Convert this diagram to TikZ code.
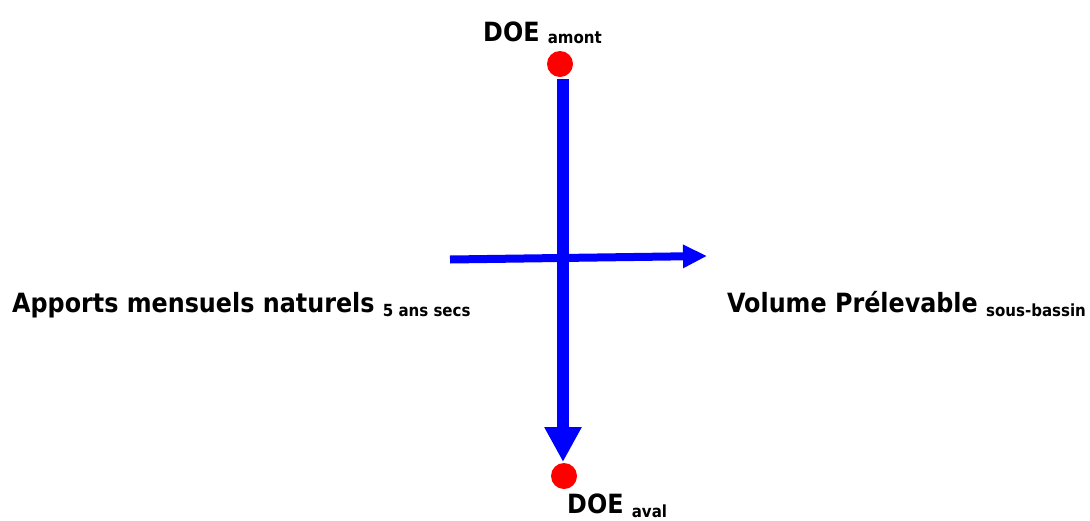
\documentclass[tikz,border=0pt]{standalone}
\usepackage{fontspec}
\setmainfont{DejaVu Sans Condensed}
\usetikzlibrary{arrows.meta}
\definecolor{flowblue}{RGB}{0,0,255}
\definecolor{doered}{RGB}{255,0,0}
\tikzset{
  doedot/.style={circle,fill=doered,draw=none,minimum size=26pt,inner sep=0pt},
  mainarrow/.style={draw=flowblue,line width=12pt,-{Triangle[length=35pt,width=35pt]}},
  sidearrow/.style={draw=flowblue,line width=8pt,-{Triangle[length=24pt,width=22pt]}},
  lbl/.style={anchor=base west,inner sep=0pt,font=\bfseries\fontsize{26.5}{30}\selectfont},
}
\newcommand{\subtxt}[2]{\raisebox{-#1pt}{\fontsize{16.7}{20}\selectfont #2}}
\begin{document}
\begin{tikzpicture}[x=1pt,y=-1pt]
\useasboundingbox (0,0) rectangle (1090,520);
\node[doedot] (top) at (560,64) {};
\node[doedot] (bot) at (564,476) {};
\coordinate (vs) at (563,79);
\coordinate (ve) at (563,462);
\coordinate (hs) at (450,259.5);
\coordinate (he) at (707,256);
\draw[sidearrow] (hs) -- (he);
\draw[mainarrow] (vs) -- (ve);
\node[lbl] (doeamont) at (483,41) {DOE \subtxt{2}{amont}};
\node[lbl] (doeaval) at (567,513) {DOE \subtxt{4}{aval}};
\node[lbl] (apports) at (12,312) {Apports mensuels naturels \subtxt{4}{5 ans secs}};
\node[lbl] (volume) at (727,312) {Volume Prélevable \subtxt{4}{sous-bassin}};
\end{tikzpicture}
\end{document}
